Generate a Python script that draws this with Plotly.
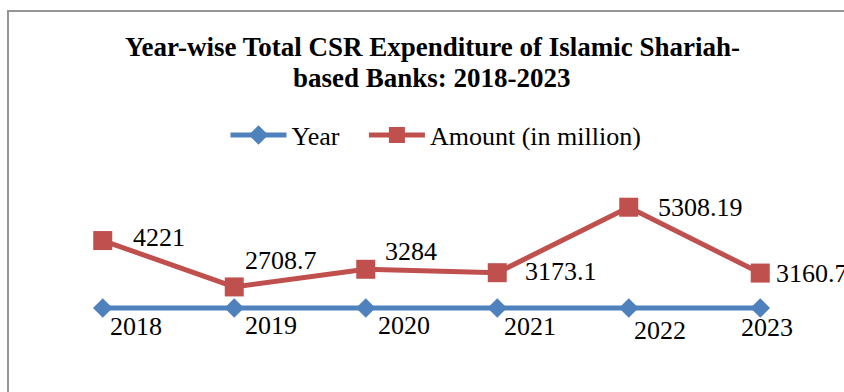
import plotly.graph_objects as go

categories = ["2018", "2019", "2020", "2021", "2022", "2023"]
year_values = [2018, 2019, 2020, 2021, 2022, 2023]
amount_values = [4221, 2708.7, 3284, 3173.1, 5308.19, 3160.7]
amount_labels = ["4221", "2708.7", "3284", "3173.1", "5308.19", "3160.7"]
year_labels = ["2018", "2019", "2020", "2021", "2022", "2023"]
series_names = ["Year", "Amount (in million)"]
title_lines = ["Year-wise Total CSR Expenditure of Islamic Shariah-", "based Banks: 2018-2023"]

# label placement offsets (pixels) relative to each point: (dx of left edge, dy of centre)
amount_offsets = [(28, -1), (9, -24.5), (17, -16), (26, 1), (27, 2), (14, 2)]
year_offsets = [(5, 20), (9, 19), (10, 19), (5, 20), (3, 25), (-21, 22)]

BLUE = "#4F81BD"
RED = "#C0504D"
FONT = "Liberation Serif, Times New Roman, serif"

W, H = 844, 392
ML, MR, MT, MB = 37, 18, 186, 22

fig = go.Figure()
fig.add_trace(go.Scatter(
    x=list(range(len(categories))), y=year_values, name=series_names[0] + "&nbsp;&nbsp;&nbsp;",
    mode="lines+markers",
    line=dict(color=BLUE, width=5),
    marker=dict(symbol="diamond", size=15, color=BLUE),
))
fig.add_trace(go.Scatter(
    x=list(range(len(categories))), y=amount_values, name=series_names[1],
    mode="lines+markers",
    line=dict(color=RED, width=5),
    marker=dict(symbol="square", size=19, color=RED),
))

ph = H - MT - MB
pw = W - ML - MR
def py(pix):
    return (H - MB - pix) / ph
def px(pix):
    return (pix - ML) / pw

annotations = []
for i, (v, t) in enumerate(zip(amount_values, amount_labels)):
    dx, dy = amount_offsets[i]
    annotations.append(dict(x=i, y=v, xref="x", yref="y", text=t, showarrow=False,
                            xanchor="left", yanchor="middle", xshift=dx, yshift=-dy + 2,
                            font=dict(family=FONT, size=26, color="black")))
for i, (v, t) in enumerate(zip(year_values, year_labels)):
    dx, dy = year_offsets[i]
    annotations.append(dict(x=i, y=v, xref="x", yref="y", text=t, showarrow=False,
                            xanchor="left", yanchor="middle", xshift=dx, yshift=-dy + 2,
                            font=dict(family=FONT, size=26, color="black")))
for t, yc in zip(title_lines, [47, 78]):
    annotations.append(dict(x=px(432), y=py(yc), xref="paper", yref="paper",
                            text="<b>" + t + "</b>", showarrow=False,
                            xanchor="center", yanchor="middle",
                            font=dict(family=FONT, size=27, color="black")))

fig.update_layout(
    width=W, height=H,
    margin=dict(l=ML, r=MR, t=MT, b=MB),
    paper_bgcolor="white", plot_bgcolor="white",
    xaxis=dict(range=[-0.5, 5.5], visible=False),
    yaxis=dict(range=[0, 6000], visible=False),
    showlegend=True,
    legend=dict(orientation="h", x=px(436), xanchor="center", y=py(135), yanchor="middle",
                font=dict(family=FONT, size=26, color="black"),
                itemwidth=56, traceorder="normal", bgcolor="rgba(0,0,0,0)"),
    annotations=annotations,
    shapes=[dict(type="rect", xref="paper", yref="paper",
                 x0=px(8), x1=px(900), y0=py(450), y1=py(11),
                 line=dict(color="#969696", width=2), fillcolor="rgba(0,0,0,0)", layer="below")],
)

fig.write_html("out.html")
